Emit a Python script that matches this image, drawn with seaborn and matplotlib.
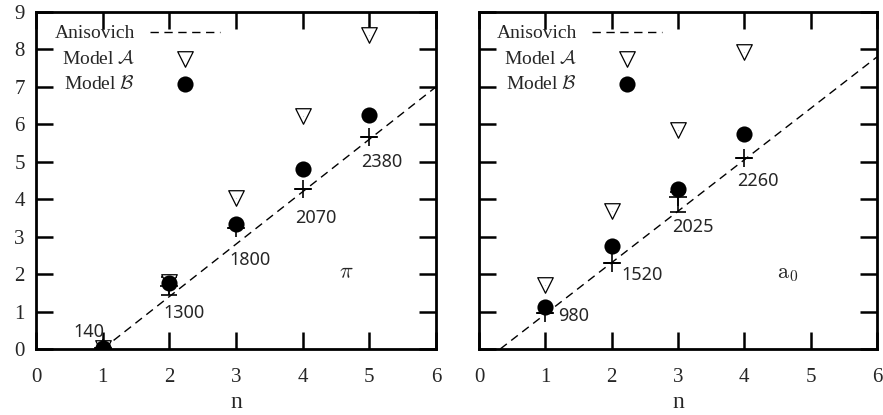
import numpy as np
import pandas as pd
import seaborn as sns
import matplotlib
matplotlib.use("Agg")
import matplotlib.pyplot as plt

# ---------------- data ----------------
# pi trajectory
pi_n = [1, 2, 3, 4, 5]
pi_anisovich = [0.02, 1.69, 3.24, 4.28, 5.66]
pi_anisovich_err_lo = [0.0, 0.25, 0.0, 0.0, 0.0]
pi_anisovich_err_hi = [0.0, 0.22, 0.0, 0.0, 0.0]
pi_model_a = [0.02, 1.80, 4.03, 6.22, 8.38]
pi_model_b = [0.02, 1.76, 3.33, 4.82, 6.25]
pi_masses = ["140", "1300", "1800", "2070", "2380"]
pi_label_n = [0.80, 2.22, 3.21, 4.20, 5.19]
pi_label_m2 = [0.45, 0.95, 2.37, 3.49, 4.99]
pi_trend_n = [1.0, 6.0]
pi_trend_m2 = [0.0, 7.0]

# a0 trajectory
a0_n = [1, 2, 3, 4]
a0_anisovich = [0.96, 2.31, 4.05, 5.11]
a0_anisovich_err_lo = [0.0, 0.0, 0.40, 0.0]
a0_anisovich_err_hi = [0.0, 0.0, 0.15, 0.0]
a0_model_a = [1.70, 3.68, 5.84, 7.92]
a0_model_b = [1.12, 2.76, 4.28, 5.75]
a0_masses = ["980", "1520", "2025", "2260"]
a0_label_n = [1.42, 2.46, 3.22, 4.21]
a0_label_m2 = [0.88, 1.97, 3.25, 4.48]
a0_trend_n = [0.32, 6.0]
a0_trend_m2 = [0.0, 7.80]

x_ticks = [0, 1, 2, 3, 4, 5, 6]
y_ticks = [0, 1, 2, 3, 4, 5, 6, 7, 8, 9]

# ---------------- style ----------------
sns.set_theme(style="ticks")
plt.rcParams["font.family"] = ["Liberation Serif", "DejaVu Serif"]
plt.rcParams["mathtext.fontset"] = "cm"

fig = plt.figure(figsize=(8.83, 4.15), dpi=100)
W, H = 883, 415
axL = fig.add_axes([36 / W, 1 - 349 / H, 400 / W, 337 / H])
axR = fig.add_axes([479 / W, 1 - 349 / H, 398 / W, 337 / H])

label_font = ["Noto Sans", "DejaVu Sans"]


def draw(ax, n, anis, err_lo, err_hi, ma, mb, masses, lx, ly, tn, tm, tag, show_y):
    line_df = pd.DataFrame({"n": tn, "m2": tm})
    sns.lineplot(data=line_df, x="n", y="m2", ax=ax, color="black",
                 lw=1.0, dashes=False, linestyle=(0, (6, 4)),
                 label="Anisovich", zorder=2)
    ax.errorbar(n, anis, yerr=[err_lo, err_hi], fmt="+", color="black",
                markersize=12.5, mew=1.2, elinewidth=1.2, capsize=5.8,
                capthick=1.2, zorder=3)
    a_df = pd.DataFrame({"n": n, "m2": ma})
    sns.scatterplot(data=a_df, x="n", y="m2", ax=ax, marker="v", s=125,
                    facecolor="white", edgecolor="black", linewidth=0.9,
                    label=r"Model $\mathcal{A}$", zorder=4)
    sns.scatterplot(data=a_df, x="n", y="m2", ax=ax, marker=".", s=2,
                    color="black", linewidth=0, zorder=5, legend=False)
    b_df = pd.DataFrame({"n": n, "m2": mb})
    sns.scatterplot(data=b_df, x="n", y="m2", ax=ax, marker="o", s=135,
                    color="black", linewidth=0,
                    label=r"Model $\mathcal{B}$", zorder=5)
    for t, x, y in zip(masses, lx, ly):
        ax.text(x, y, t, ha="center", va="center", fontsize=13,
                family=label_font)
    ax.text(4.65, 2.0, tag, ha="center", va="center", fontsize=16)

    ax.set_xlim(0, 6)
    ax.set_ylim(0, 9)
    ax.set_xticks(x_ticks)
    ax.set_yticks(y_ticks)
    ax.tick_params(direction="in", length=12, width=1.8, top=True,
                   right=True, labelsize=15, color="black")
    ax.tick_params(axis="x", pad=14)
    ax.tick_params(axis="y", pad=8)
    if not show_y:
        ax.tick_params(axis="y", labelleft=False)
    for s in ax.spines.values():
        s.set_linewidth(2.0)
        s.set_color("black")
        s.set_visible(True)
    ax.set_xlabel("n", fontsize=17, labelpad=3)
    ax.set_ylabel("")

    handles, labels = ax.get_legend_handles_labels()
    ax.legend(handles, labels, loc="upper right", bbox_to_anchor=(0.46, 0.962),
              frameon=False, markerfirst=False, fontsize=14,
              handlelength=3.6, handletextpad=0.77, labelspacing=0.38,
              borderpad=0, borderaxespad=0)


draw(axL, pi_n, pi_anisovich, pi_anisovich_err_lo, pi_anisovich_err_hi,
     pi_model_a, pi_model_b, pi_masses, pi_label_n, pi_label_m2,
     pi_trend_n, pi_trend_m2, r"$\pi$", True)
draw(axR, a0_n, a0_anisovich, a0_anisovich_err_lo, a0_anisovich_err_hi,
     a0_model_a, a0_model_b, a0_masses, a0_label_n, a0_label_m2,
     a0_trend_n, a0_trend_m2, r"$\mathrm{a}_0$", False)

fig.savefig("out.png", dpi=100, facecolor="white")
